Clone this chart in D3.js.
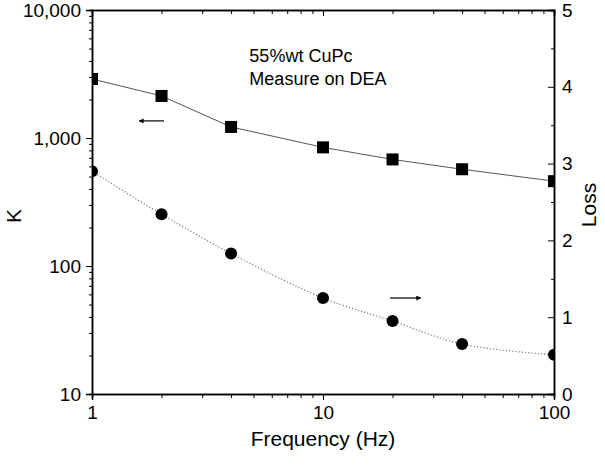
<!DOCTYPE html>
<html>
<head>
<meta charset="utf-8">
<script src="https://cdn.jsdelivr.net/npm/d3@7"></script>
<style>
  body { margin: 0; background: #fff; }
  svg { display: block; font-family: "Liberation Sans", Arial, sans-serif; }
  .axis path, .axis line { stroke: #000; }
  .axis text { font-size: 19px; fill: #000; }
</style>
</head>
<body>
<div id="chart"></div>
<script>
// --- data ---
const freq = [1, 2, 4, 10, 20, 40, 100];
const kValues = [2890, 2130, 1220, 845, 680, 570, 460];
const lossValues = [2.9, 2.34, 1.83, 1.25, 0.95, 0.65, 0.51];

const xMajor = [1, 10, 100];
const kMajor = [10, 100, 1000, 10000];
const lossMajor = [0, 1, 2, 3, 4, 5];
const lossMinor = [0.5, 1.5, 2.5, 3.5, 4.5];

const notes = ['55%wt CuPc', 'Measure on DEA'];

// --- layout ---
const W = 605, H = 465;
const margin = {top: 10, right: 51, bottom: 71, left: 92};
const iw = W - margin.left - margin.right;
const ih = H - margin.top - margin.bottom;

const svg = d3.select('#chart').append('svg')
    .attr('width', W).attr('height', H);

const g = svg.append('g')
    .attr('transform', `translate(${margin.left},${margin.top})`);

const x = d3.scaleLog().domain([1, 100]).range([0, iw]);
const yK = d3.scaleLog().domain([10, 10000]).range([ih, 0]);
const yL = d3.scaleLinear().domain([0, 5]).range([ih, 0]);

// minor ticks for log scales (2..9 in each decade)
function logMinors(lo, hi) {
    const out = [];
    for (let p = lo; p < hi; p *= 10)
        for (let m = 2; m <= 9; m++) out.push(p * m);
    return out;
}
const xMinor = logMinors(1, 100);
const kMinor = logMinors(10, 10000);

// --- axes ---
// bottom
g.append('g').attr('class', 'axis')
    .attr('transform', `translate(0,${ih})`)
    .call(d3.axisBottom(x).tickValues(xMajor).tickFormat(d3.format('d')).tickSize(6).tickPadding(6));
g.append('g').attr('class', 'axis')
    .attr('transform', `translate(0,${ih})`)
    .call(d3.axisBottom(x).tickValues(xMinor).tickFormat('').tickSize(4));

// top (inward)
g.append('g').attr('class', 'axis')
    .call(d3.axisTop(x).tickValues(xMajor).tickFormat('').tickSize(-6));
g.append('g').attr('class', 'axis')
    .call(d3.axisTop(x).tickValues(xMinor).tickFormat('').tickSize(-4));

// left
g.append('g').attr('class', 'axis')
    .call(d3.axisLeft(yK).tickValues(kMajor).tickFormat(d3.format(',')).tickSize(6).tickPadding(5));
g.append('g').attr('class', 'axis')
    .call(d3.axisLeft(yK).tickValues(kMinor).tickFormat('').tickSize(3));

// right (inward ticks, labels outside)
g.append('g').attr('class', 'axis')
    .attr('transform', `translate(${iw},0)`)
    .call(d3.axisRight(yL).tickValues(lossMajor).tickFormat(d3.format('d')).tickSize(-6).tickPadding(8));
g.append('g').attr('class', 'axis')
    .attr('transform', `translate(${iw},0)`)
    .call(d3.axisRight(yL).tickValues(lossMinor).tickFormat('').tickSize(-3));

g.selectAll('.axis path').attr('stroke-width', 1.5);

// --- series ---
svg.append('clipPath').attr('id', 'plot-clip')
    .append('rect').attr('width', iw).attr('height', ih);

const plot = g.append('g').attr('clip-path', 'url(#plot-clip)');

const kData = freq.map((f, i) => ({f, v: kValues[i]}));
const lData = freq.map((f, i) => ({f, v: lossValues[i]}));

plot.append('path')
    .datum(kData)
    .attr('fill', 'none')
    .attr('stroke', '#555')
    .attr('stroke-width', 1)
    .attr('d', d3.line().x(d => x(d.f)).y(d => yK(d.v)));

plot.append('path')
    .datum(lData)
    .attr('fill', 'none')
    .attr('stroke', '#777')
    .attr('stroke-width', 1.2)
    .attr('stroke-dasharray', '1.2,2')
    .attr('d', d3.line().curve(d3.curveCatmullRom).x(d => x(d.f)).y(d => yL(d.v)));

const sq = 12;
plot.selectAll('rect.k').data(kData).join('rect')
    .attr('class', 'k')
    .attr('x', d => x(d.f) - sq / 2)
    .attr('y', d => yK(d.v) - sq / 2)
    .attr('width', sq).attr('height', sq)
    .attr('fill', '#000');

plot.selectAll('circle.l').data(lData).join('circle')
    .attr('class', 'l')
    .attr('cx', d => x(d.f))
    .attr('cy', d => yL(d.v))
    .attr('r', 6)
    .attr('fill', '#000');

// --- arrows showing which axis each series uses ---
const defs = svg.append('defs');
defs.append('marker')
    .attr('id', 'head')
    .attr('viewBox', '0 0 10 10')
    .attr('refX', 9).attr('refY', 5)
    .attr('markerWidth', 9).attr('markerHeight', 5)
    .attr('markerUnits', 'userSpaceOnUse')
    .attr('orient', 'auto')
    .append('path').attr('d', 'M0,0 L10,5 L0,10 Z').attr('fill', '#000');

// left-pointing arrow (K axis), right-pointing arrow (Loss axis)
g.append('line')
    .attr('x1', x(2.05)).attr('y1', yK(1360))
    .attr('x2', x(1.6)).attr('y2', yK(1360))
    .attr('stroke', '#000').attr('stroke-width', 1.2)
    .attr('marker-end', 'url(#head)');
g.append('line')
    .attr('x1', x(19.5)).attr('y1', yL(1.25))
    .attr('x2', x(26.5)).attr('y2', yL(1.25))
    .attr('stroke', '#000').attr('stroke-width', 1.2)
    .attr('marker-end', 'url(#head)');

// --- annotation ---
const note = g.append('text')
    .attr('font-size', 18);
note.selectAll('tspan').data(notes).join('tspan')
    .attr('x', x(4.8))
    .attr('y', (d, i) => 52 + i * 23)
    .text(d => d);

// --- axis titles ---
svg.append('text')
    .attr('x', margin.left + iw / 2).attr('y', 446)
    .attr('text-anchor', 'middle').attr('font-size', 21)
    .text('Frequency (Hz)');

svg.append('text')
    .attr('transform', `translate(21,216) rotate(-90)`)
    .attr('text-anchor', 'middle').attr('font-size', 21)
    .text('K');

svg.append('text')
    .attr('transform', `translate(590,205) rotate(-90)`)
    .attr('text-anchor', 'middle').attr('font-size', 21)
    .attr('dominant-baseline', 'middle')
    .text('Loss');
</script>
</body>
</html>
